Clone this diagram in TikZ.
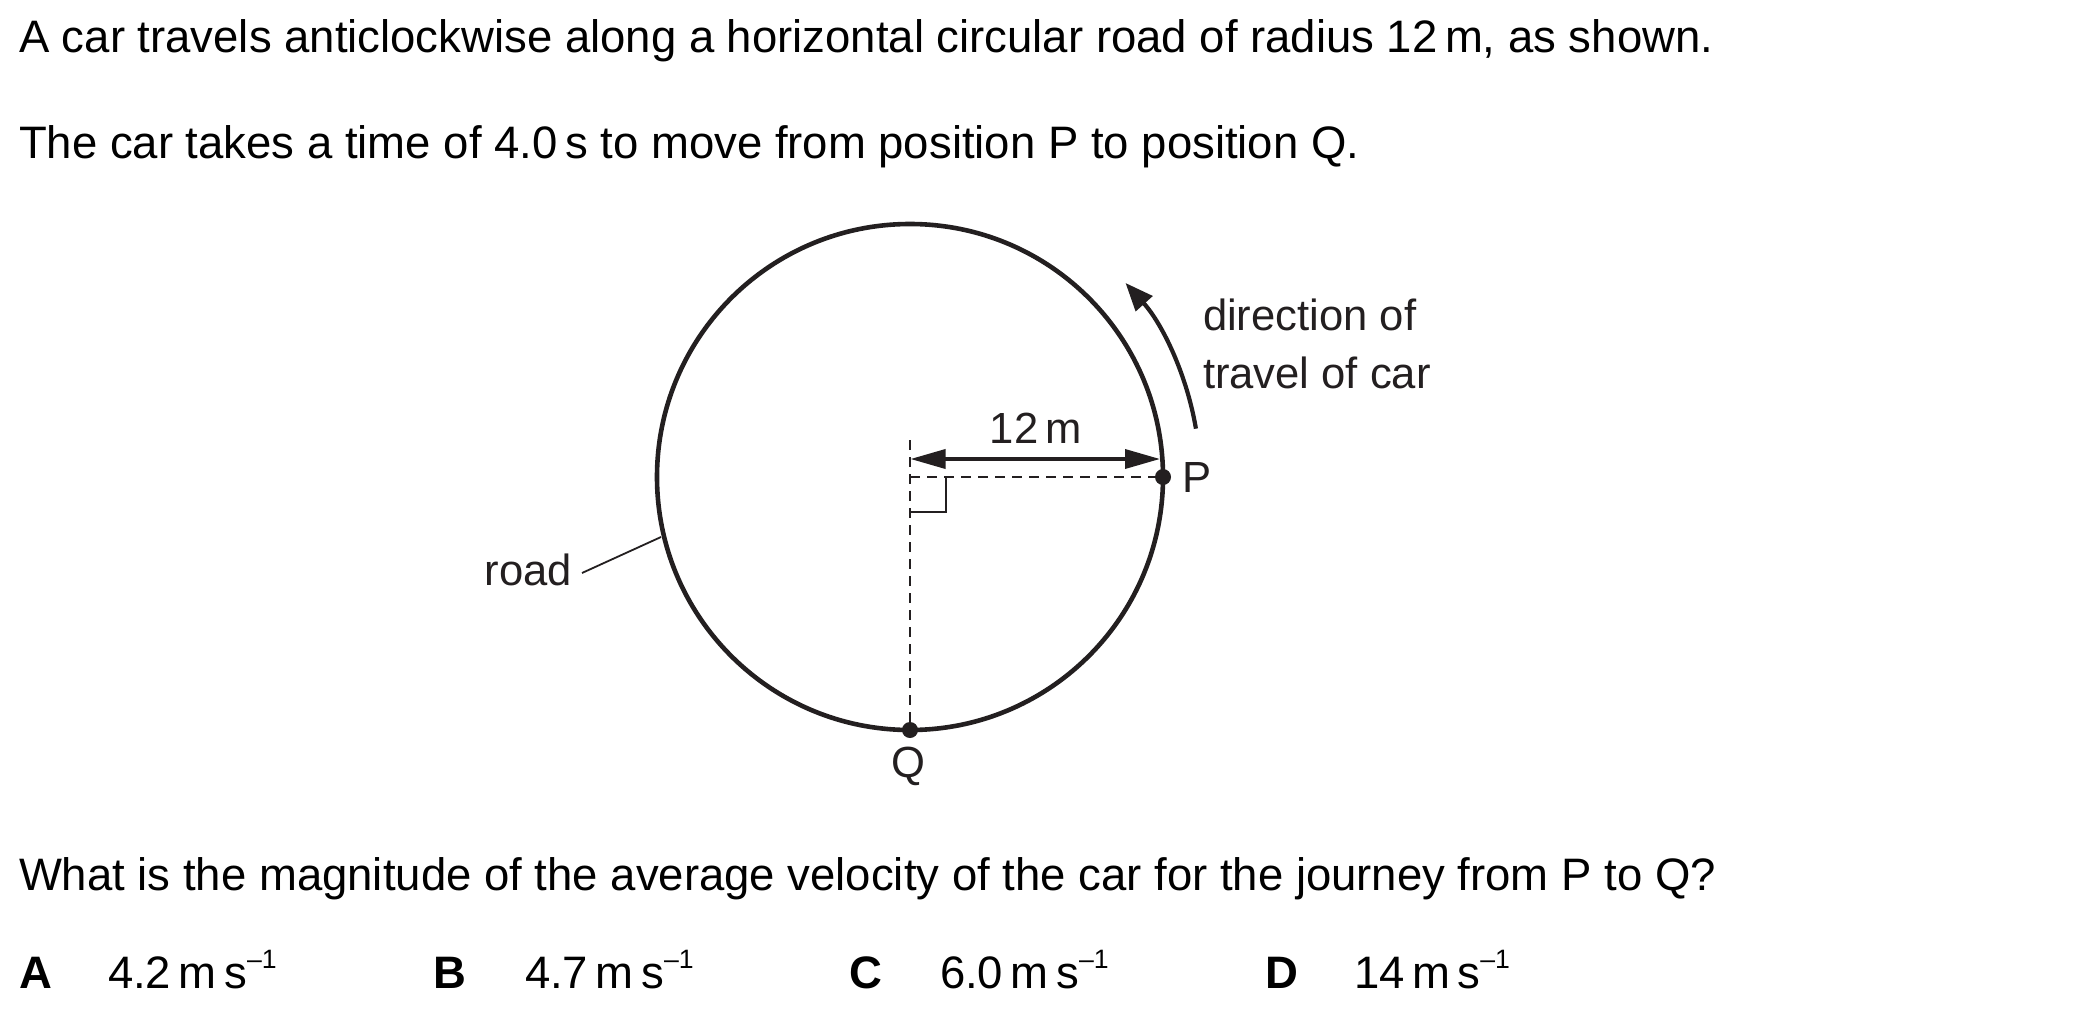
\documentclass[tikz,border=0pt]{standalone}
\usepackage{fontspec}
\setmainfont{Liberation Sans}
\usetikzlibrary{arrows.meta,calc}
\definecolor{ink}{HTML}{231F20}
\newcommand{\perunit}{\raisebox{10pt}{\fontsize{13.3}{14}\selectfont\textendash1}}
\tikzset{
  tri/.tip={Triangle[length=17.5pt,width=9.5pt]},
  dirtip/.tip={Triangle[length=14pt,width=11pt]}
}
\begin{document}
\begin{tikzpicture}[x=0.5pt,y=-0.5pt,
  txt/.style={inner sep=0pt,outer sep=0pt,anchor=base west,font=\fontsize{22.75}{27}\selectfont},
  opt/.style={inner sep=0pt,outer sep=0pt,anchor=base west,font=\fontsize{22.75}{27}\selectfont\bfseries},
  lbl/.style={inner sep=0pt,outer sep=0pt,text=ink,font=\fontsize{21.8}{26}\selectfont},
  roadline/.style={line width=2.3pt,draw=ink},
  dashline/.style={line width=1.1pt,draw=ink,dash pattern=on 5pt off 3.5pt},
  thinline/.style={line width=1.1pt,draw=ink},
  dot/.style={circle,fill=ink,inner sep=0pt,minimum size=8pt}
]
\path[fill=white,use as bounding box] (0,0) rectangle (2100,1028);

% text
\node[txt] (l1) at (19,52.7) {A car travels anticlockwise along a horizontal circular road of radius 12\,m, as shown.};
\node[txt] (l2) at (19,158.3) {The car takes a time of 4.0\,s to move from position P to position Q.};
\node[txt] (q) at (19,890) {What is the magnitude of the average velocity of the car for the journey from P to Q?};

\node[opt] (oA) at (19,988) {A};
\node[txt] (vA) at (108,988) {4.2\,m\,s\perunit};
\node[opt] (oB) at (433,988) {B};
\node[txt] (vB) at (525,988) {4.7\,m\,s\perunit};
\node[opt] (oC) at (849,988) {C};
\node[txt] (vC) at (940,988) {6.0\,m\,s\perunit};
\node[opt] (oD) at (1265,988) {D};
\node[txt] (vD) at (1354,988) {14\,m\,s\perunit};

% diagram
\coordinate (C) at (910,477);
\draw[roadline] (C) circle[radius=253];
\coordinate (Ctop) at (910,440);
\node[dot] (P) at (1163,477) {};
\node[dot] (Q) at (910,730) {};
\draw[dashline] (Ctop) -- (Q.center);
\draw[dashline] (C) -- (P.center);
\draw[thinline] (910,512) -- (946,512) -- (946,477);

\coordinate (aL) at (910.5,459);
\coordinate (aR) at (1160,459);
\draw[line width=1.8pt,draw=ink,tri-tri] (aL) -- (aR);
\node[lbl,anchor=base] (len) at (1036,443) {12\,m};

\node[lbl,anchor=base west] (Plbl) at (1182,492) {P};
\node[lbl,anchor=base] (Qlbl) at (908,777) {Q};

\node[lbl,anchor=base east] (roadlbl) at (572,585) {road};
\coordinate (rA) at (582,573);
\coordinate (rB) at (661,537);
\draw[line width=0.9pt,draw=ink] (rA) -- (rB);

\coordinate (dA) at ($(C)+(-9.6:290)$);
\draw[line width=2.1pt,draw=ink,-dirtip] (dA) arc[start angle=-9.6,end angle=-42,radius=290];
\node[lbl,anchor=base west] (dir1) at (1203,330) {direction of};
\node[lbl,anchor=base west] (dir2) at (1203,388.3) {travel of car};
\end{tikzpicture}
\end{document}
